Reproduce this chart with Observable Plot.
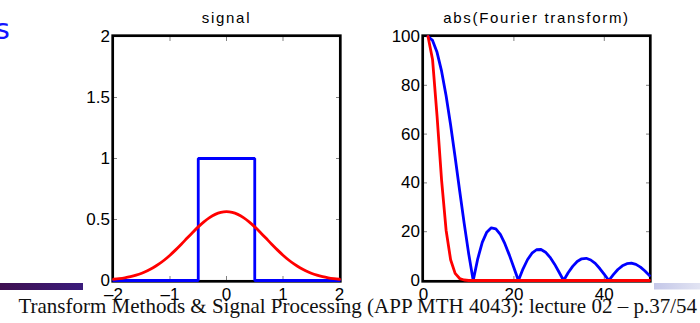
<!DOCTYPE html>
<html>
<head>
<meta charset="utf-8">
<script src="https://cdn.jsdelivr.net/npm/d3@7"></script>
<script src="https://cdn.jsdelivr.net/npm/@observablehq/plot@0.6"></script>
<style>
  html, body { margin: 0; padding: 0; background: white; }
  #wrap { position: relative; width: 700px; height: 323px; overflow: hidden; background: white; }
  #left, #right { position: absolute; top: 0; }
  #left { left: 0; }
  #right { left: 350px; }
  #deco { position: absolute; left: 0; top: 0; pointer-events: none; }
  g[aria-label="text"] text { letter-spacing: 1.7px; }
</style>
</head>
<body>
<div id="wrap">
  <div id="left"></div>
  <div id="right"></div>
  <svg id="deco" width="700" height="323">
    <defs>
      <linearGradient id="gL" x1="0" x2="1" y1="0" y2="0">
        <stop offset="0" stop-color="#3e1050"/>
        <stop offset="1" stop-color="#3b1c7c"/>
      </linearGradient>
      <linearGradient id="gR" x1="0" x2="1" y1="0" y2="0">
        <stop offset="0" stop-color="#c4c7e8"/>
        <stop offset="1" stop-color="#e2e4f3"/>
      </linearGradient>
    </defs>
    <rect x="0" y="283" width="83" height="7" fill="url(#gL)"/>
    <rect x="654" y="283" width="46" height="6.5" fill="url(#gR)"/>
    <text x="9.8" y="38.5" text-anchor="end" font-family="DejaVu Sans" font-size="28.5" fill="#1414ff">s</text>
    <text x="697" y="313" text-anchor="end" font-family="Liberation Serif" font-size="21" fill="#111">Transform Methods &amp; Signal Processing (APP MTH 4043): lecture 02 – p.37/54</text>
  </svg>
</div>
<script>
// ---------- Data ----------
// Left panel: signal
const titleL = ["signal"];
const rectX = [-2, -0.5, -0.5, 0.5, 0.5, 2];
const rectY = [0, 0, 1, 1, 0, 0];
const gaussX = [-2.0,-1.9,-1.8,-1.7,-1.6,-1.5,-1.4,-1.3,-1.2,-1.1,-1.0,-0.9,-0.8,-0.7,-0.6,-0.5,-0.4,-0.3,-0.2,-0.1,
                0.0,0.1,0.2,0.3,0.4,0.5,0.6,0.7,0.8,0.9,1.0,1.1,1.2,1.3,1.4,1.5,1.6,1.7,1.8,1.9,2.0];
const gaussY = [0.0103,0.0153,0.0221,0.0314,0.0436,0.0595,0.0795,0.1041,0.1337,0.1682,0.2076,0.2510,0.2975,0.3456,0.3936,0.4394,0.4808,0.5156,0.5421,0.5586,
                0.5642,0.5586,0.5421,0.5156,0.4808,0.4394,0.3936,0.3456,0.2975,0.2510,0.2076,0.1682,0.1337,0.1041,0.0795,0.0595,0.0436,0.0314,0.0221,0.0153,0.0103];
const xTicksL = [-2, -1, 0, 1, 2];
const yTicksL = [0, 0.5, 1, 1.5, 2];

// Right panel: abs(Fourier transform)
const titleR = ["abs(Fourier transform)"];
const freqIdx = [1,2,3,4,5,6,7,8,9,10,11,12,13,14,15,16,17,18,19,20,21,22,23,24,25,
                 26,27,28,29,30,31,32,33,34,35,36,37,38,39,40,41,42,43,44,45,46,47,48,49,50];
const rectFT = [100,98.4,93.5,85.8,75.7,63.7,50.5,36.8,23.4,10.9,0,8.9,15.6,19.8,21.6,21.2,18.9,15.1,10.4,5.2,
                0,4.7,8.5,11.2,12.6,12.7,11.6,9.5,6.7,3.4,0,3.2,5.8,7.8,8.9,9.1,8.4,7.0,4.9,2.5,
                0,2.4,4.5,6.0,6.9,7.1,6.6,5.5,3.9,2.0];
const gaussFT = [100,90.6,67.4,41.1,20.6,8.5,2.9,0.8,0.2,0,0,0,0,0,0,0,0,0,0,0,
                 0,0,0,0,0,0,0,0,0,0,0,0,0,0,0,0,0,0,0,0,
                 0,0,0,0,0,0,0,0,0,0];
const xTicksR = [0, 20, 40];
const yTicksR = [0, 20, 40, 60, 80, 100];

// ---------- Helpers ----------
const fmt = d => (d < 0 ? "–" + (-d) : String(d));
const BLUE = "#0000ff", RED = "#ff0000";
const common = {
  width: 350, height: 323,
  marginTop: 36, marginBottom: 43,
  style: { fontFamily: "'Liberation Sans', Arial, sans-serif", fontSize: "17px", background: "transparent", overflow: "visible", color: "black" }
};
function axes(xt, yt) {
  return [
    Plot.frame({ stroke: "black", strokeWidth: 2.7, inset: -0.8 }),
    Plot.axisX({ anchor: "bottom", ticks: xt, tickSize: 0, tickPadding: 7, fontSize: 17, tickFormat: fmt }),
    Plot.axisY({ anchor: "left", ticks: yt, tickSize: 0, tickPadding: 3.5, fontSize: 17, tickFormat: fmt }),
    Plot.axisX({ anchor: "bottom", ticks: xt, tickSize: -4, text: null, strokeWidth: 0.9, strokeOpacity: 0.55 }),
    Plot.axisX({ anchor: "top", ticks: xt, tickSize: -4, text: null, strokeWidth: 0.9, strokeOpacity: 0.55 }),
    Plot.axisY({ anchor: "left", ticks: yt, tickSize: -4, text: null, strokeWidth: 0.9, strokeOpacity: 0.55 }),
    Plot.axisY({ anchor: "right", ticks: yt, tickSize: -4, text: null, strokeWidth: 0.9, strokeOpacity: 0.55 })
  ];
}

// ---------- Left plot ----------
const left = Plot.plot({
  ...common,
  marginLeft: 113, marginRight: 11,
  x: { domain: [-2, 2] },
  y: { domain: [0, 2] },
  marks: [
    ...axes(xTicksL, yTicksL),
    Plot.line(rectX, { x: d => d, y: (d, i) => rectY[i], stroke: BLUE, strokeWidth: 2.8, strokeLinejoin: "miter" }),
    Plot.line(gaussX, { x: d => d, y: (d, i) => gaussY[i], stroke: RED, strokeWidth: 2.8, curve: "monotone-x" }),
    Plot.text(titleL, { text: d => d, frameAnchor: "top", dy: -14, lineAnchor: "bottom", fontSize: 15 })
  ]
});
document.getElementById("left").appendChild(left);

// ---------- Right plot ----------
const right = Plot.plot({
  ...common,
  marginLeft: 73, marginRight: 51,
  x: { domain: [0, 50] },
  y: { domain: [0, 100] },
  marks: [
    ...axes(xTicksR, yTicksR),
    Plot.line(freqIdx, { x: d => d, y: (d, i) => rectFT[i], stroke: BLUE, strokeWidth: 2.8 }),
    Plot.line(freqIdx, { x: d => d, y: (d, i) => gaussFT[i], stroke: RED, strokeWidth: 2.8 }),
    Plot.text(titleR, { text: d => d, frameAnchor: "top", dy: -14, lineAnchor: "bottom", fontSize: 15 })
  ]
});
document.getElementById("right").appendChild(right);
</script>
</body>
</html>
